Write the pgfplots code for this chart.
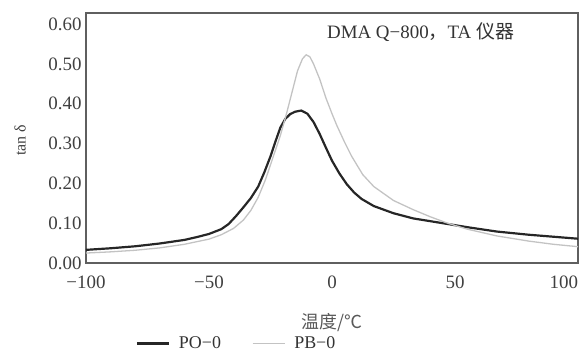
\documentclass[border=0pt]{standalone}
\usepackage{pgfplots}
\pgfplotsset{compat=1.18}
\usepackage{fontspec}
\setmainfont{Liberation Serif}
\newfontfamily\cjk{Noto Sans CJK SC}
\definecolor{pbgray}{RGB}{195,195,195}
\definecolor{framegray}{RGB}{95,95,95}
\begin{document}
\begin{tikzpicture}
\useasboundingbox (-86bp,-94bp) rectangle (493bp,263bp);
\begin{axis}[
  at={(0,0)}, anchor=south west,
  scale only axis,
  width=492bp, height=250bp,
  xmin=-100, xmax=100, ymin=0, ymax=0.628,
  xtick={-100,-50,0,50,100},
  xticklabels={−100,−50,0,50,100\hphantom{100}},
  ytick={0,0.1,0.2,0.3,0.4,0.5,0.6},
  yticklabel style={xshift=-1bp,/pgf/number format/.cd,fixed,fixed zerofill,precision=2,assume math mode=true},
  major tick length=0pt,
  axis line style={framegray, line width=1.4pt},
  tick label style={font=\fontsize{19}{21}\selectfont, text=black!75},
  xticklabel style={yshift=-9bp},
  xlabel={{\cjk 温度/℃}},
  xlabel style={font=\fontsize{18}{20}\selectfont, text=black!65, at={(axis description cs:0.5,0)}, anchor=center, yshift=-60bp},
  ylabel={tan δ},
  ylabel style={font=\fontsize{16}{18}\selectfont, text=black!75, at={(axis description cs:-0.134,0.49)}, anchor=center},
  legend columns=2,
  legend style={draw=none, fill=none, at={(axis description cs:0.305,-0.322)}, anchor=center,
    font=\fontsize{18}{19}\selectfont, text=black!80, inner sep=0pt,
    nodes={inner sep=1bp},
    /tikz/every odd column/.append style={column sep=8bp},
    /tikz/every even column/.append style={column sep=30bp}},
  legend image code/.code={\draw[#1] (0bp,0bp) -- (32bp,0bp);},
]
\addplot[black!85, line width=2.2pt] coordinates {
(-100,0.033) (-90,0.037) (-80,0.042) (-70,0.049) (-60,0.058) (-55,0.065)
(-50,0.073) (-45,0.085) (-42,0.098) (-39,0.118) (-36,0.140) (-33,0.163)
(-30,0.192) (-27.5,0.228) (-25,0.268) (-23,0.305) (-21,0.340) (-19,0.362)
(-17,0.374) (-15,0.380) (-12.5,0.383) (-10,0.375) (-7.5,0.354) (-5,0.324)
(-2.5,0.290) (0,0.257) (3,0.225) (6,0.198) (9,0.177) (12,0.161) (17,0.143)
(25,0.125) (33,0.112) (45,0.100) (55,0.090) (67,0.079) (80,0.071) (90,0.066) (100,0.061)
};
\addlegendentry{PO−0}
\addplot[pbgray, line width=1.3pt] coordinates {
(-100,0.025) (-90,0.028) (-80,0.032) (-70,0.038) (-60,0.047) (-50,0.060)
(-45,0.071) (-40,0.087) (-36,0.108) (-33,0.132) (-30,0.165) (-27,0.210)
(-24,0.265) (-21,0.320) (-18.5,0.375) (-16,0.435) (-14,0.483) (-12,0.513)
(-10.5,0.523) (-9,0.518) (-7.5,0.500) (-5,0.462) (-2.5,0.415) (0,0.375)
(2,0.345) (5,0.305) (8,0.268) (12.5,0.222) (17,0.192) (25,0.157) (33,0.134)
(40,0.116) (47,0.100) (55,0.085) (67,0.068) (80,0.055) (90,0.047) (100,0.041)
};
\addlegendentry{PB−0}
\node[font=\fontsize{19}{21}\selectfont, text=black!80] at (axis cs:36,0.58) {DMA Q−800{\cjk ，}TA {\cjk 仪器}};
\end{axis}
\end{tikzpicture}
\end{document}
